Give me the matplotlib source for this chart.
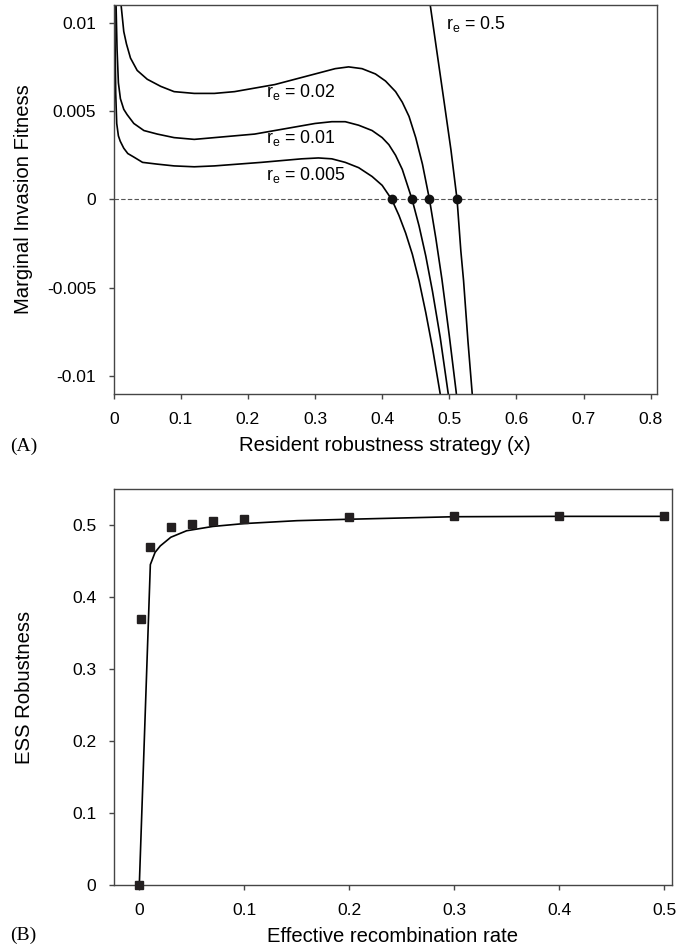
import numpy as np
import matplotlib
matplotlib.use('Agg')
import matplotlib.pyplot as plt

plt.rcParams['font.family'] = ['Liberation Sans', 'DejaVu Sans']
plt.rcParams['mathtext.fontset'] = 'custom'
plt.rcParams['mathtext.rm'] = 'Liberation Sans'
plt.rcParams['mathtext.it'] = 'Liberation Sans'

# panel A: marginal invasion fitness vs resident strategy
x_r002 = [0.008, 0.011, 0.015, 0.019, 0.025, 0.035, 0.05, 0.07, 0.09, 0.12, 0.15,
          0.18, 0.21, 0.24, 0.27, 0.30, 0.33, 0.35, 0.37, 0.39, 0.405, 0.42,
          0.43, 0.44, 0.45, 0.46, 0.4705, 0.48, 0.489, 0.50, 0.51, 0.515]
y_r002 = [0.013, 0.011, 0.0095, 0.0088, 0.0080, 0.0073, 0.0068, 0.0064, 0.0061,
          0.0060, 0.0060, 0.0061, 0.0063, 0.0065, 0.0068, 0.0071, 0.0074, 0.0075,
          0.0074, 0.0071, 0.0067, 0.0061, 0.0055, 0.0047, 0.0035, 0.0020, 0.0,
          -0.0022, -0.0045, -0.0077, -0.0108, -0.0125]

x_r001 = [0.002, 0.0035, 0.005, 0.007, 0.01, 0.015, 0.02, 0.03, 0.045, 0.065, 0.09,
          0.12, 0.15, 0.18, 0.21, 0.24, 0.27, 0.30, 0.325, 0.345, 0.365, 0.385,
          0.40, 0.41, 0.42, 0.43, 0.4446, 0.455, 0.465, 0.475, 0.4865, 0.4985, 0.503]
y_r001 = [0.015, 0.011, 0.0085, 0.0066, 0.0057, 0.0051, 0.0048, 0.0043, 0.0039,
          0.0037, 0.0035, 0.0034, 0.0035, 0.0036, 0.0037, 0.0039, 0.0041, 0.0043,
          0.0044, 0.0044, 0.0042, 0.0039, 0.0035, 0.0031, 0.0025, 0.0017, 0.0,
          -0.0015, -0.0032, -0.0052, -0.0078, -0.011, -0.0123]

x_r0005 = [0.001, 0.002, 0.003, 0.0045, 0.007, 0.0097, 0.015, 0.021, 0.03, 0.043,
           0.065, 0.09, 0.12, 0.15, 0.185, 0.22, 0.25, 0.28, 0.305, 0.325, 0.345,
           0.365, 0.385, 0.40, 0.4143, 0.425, 0.435, 0.445, 0.455, 0.465, 0.475,
           0.4865, 0.49]
y_r0005 = [0.015, 0.009, 0.0060, 0.0043, 0.0036, 0.0033, 0.0029, 0.0026, 0.0024,
           0.0021, 0.0020, 0.0019, 0.00185, 0.0019, 0.0020, 0.0021, 0.0022, 0.0023,
           0.00235, 0.0023, 0.0021, 0.0018, 0.0013, 0.0008, 0.0, -0.0009, -0.0019,
           -0.0031, -0.0046, -0.0064, -0.0084, -0.011, -0.0119]

x_r05 = [0.466, 0.4716, 0.481, 0.492, 0.5025, 0.5116, 0.5172, 0.5213, 0.5278, 0.5342, 0.536]
y_r05 = [0.0135, 0.011, 0.0085, 0.0056, 0.0028, 0.0, -0.0029, -0.0046, -0.008, -0.011, -0.012]

ess_x = [0.4143, 0.4446, 0.4705, 0.5116]
labels_A = ['r$_\\mathregular{e}$ = 0.005', 'r$_\\mathregular{e}$ = 0.01',
            'r$_\\mathregular{e}$ = 0.02', 'r$_\\mathregular{e}$ = 0.5']
label_pos_A = [(0.2274, 0.00109), (0.2274, 0.00317), (0.2274, 0.00581), (0.4955, 0.00962)]

# panel B: ESS robustness vs effective recombination rate
sim_r = [0, 0.0015, 0.01, 0.03, 0.05, 0.07, 0.1, 0.2, 0.3, 0.4, 0.5]
sim_ess = [0, 0.369, 0.470, 0.497, 0.502, 0.506, 0.508, 0.511, 0.512, 0.512, 0.512]
fit_r = [0, 0.0105, 0.015, 0.02, 0.03, 0.045, 0.07, 0.1, 0.15, 0.2, 0.3, 0.4, 0.5]
fit_ess = [0, 0.445, 0.462, 0.471, 0.483, 0.492, 0.498, 0.502, 0.506, 0.508, 0.5115, 0.512, 0.512]

spine_col = '#454545'
fig = plt.figure(figsize=(6.8, 9.47), dpi=100)
axA = fig.add_axes([0.1672, 0.58395, 0.7985, 0.41077])
axB = fig.add_axes([0.1672, 0.06547, 0.8206, 0.41816])

for ax in (axA, axB):
    for s in ax.spines.values():
        s.set_color(spine_col)
        s.set_linewidth(1.0)
    ax.tick_params(direction='out', length=3.5, width=1.0, color=spine_col,
                   labelsize=12.6, top=False, right=False)
    ax.tick_params(axis='x', pad=9.7)
    ax.tick_params(axis='y', pad=9)

axA.axhline(0, color='#555555', lw=0.8, ls=(0, (4, 2)), zorder=1)
for xs, ys in [(x_r0005, y_r0005), (x_r001, y_r001), (x_r002, y_r002), (x_r05, y_r05)]:
    axA.plot(xs, ys, color='black', lw=1.2, zorder=2)
axA.plot(ess_x, [0] * len(ess_x), 'o', color='#111111', ms=6, zorder=3)
for lab, (lx, ly) in zip(labels_A, label_pos_A):
    axA.text(lx, ly, lab, fontsize=12.8, ha='left', va='baseline')
axA.set_xlim(0, 0.809)
axA.set_ylim(-0.011, 0.011)
axA.set_xticks(np.arange(0, 0.81, 0.1))
axA.set_xticklabels(['0', '0.1', '0.2', '0.3', '0.4', '0.5', '0.6', '0.7', '0.8'])
axA.set_yticks([-0.01, -0.005, 0, 0.005, 0.01])
axA.set_yticklabels(['-0.01', '-0.005', '0', '0.005', '0.01'])
axA.set_xlabel('Resident robustness strategy (x)', fontsize=14.6, labelpad=6)
axA.set_ylabel('Marginal Invasion Fitness', fontsize=14.6)
axA.yaxis.set_label_coords(-0.148, 0.5)

axB.plot(fit_r, fit_ess, color='black', lw=1.2, zorder=2)
axB.plot(sim_r, sim_ess, 's', color='#231f20', ms=6, clip_on=False, zorder=3)
axB.set_xlim(-0.0244, 0.507)
axB.set_ylim(0, 0.55)
axB.set_xticks([0, 0.1, 0.2, 0.3, 0.4, 0.5])
axB.set_xticklabels(['0', '0.1', '0.2', '0.3', '0.4', '0.5'])
axB.set_yticks([0, 0.1, 0.2, 0.3, 0.4, 0.5])
axB.set_yticklabels(['0', '0.1', '0.2', '0.3', '0.4', '0.5'])
axB.set_xlabel('Effective recombination rate', fontsize=14.6, labelpad=6)
axB.set_ylabel('ESS Robustness', fontsize=14.6)
axB.yaxis.set_label_coords(-0.1435, 0.5)

fig.text(10 / 680, 1 - 451 / 947, '(A)', family='Liberation Serif', fontsize=14,
         ha='left', va='baseline')
fig.text(10 / 680, 1 - 940 / 947, '(B)', family='Liberation Serif', fontsize=14,
         ha='left', va='baseline')

fig.savefig('out.png', dpi=100)
